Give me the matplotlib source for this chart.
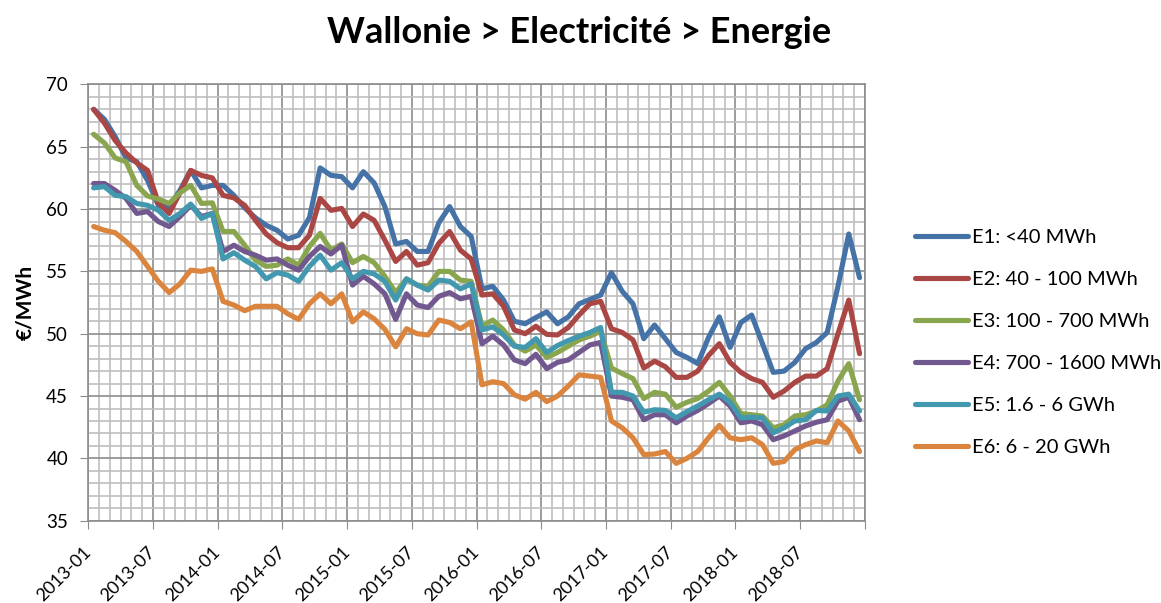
import numpy as np
import pandas as pd
import matplotlib
matplotlib.use("Agg")
import matplotlib.pyplot as plt
import matplotlib.transforms as mtransforms
from matplotlib.ticker import MultipleLocator

plt.rcParams["font.family"] = ["Lato", "DejaVu Sans"]

# monthly categories 2013-01 .. 2018-12
months = pd.date_range("2013-01-01", periods=72, freq="MS").strftime("%Y-%m").tolist()
tick_labels = months[::6]

labels = ["E1: <40 MWh", "E2: 40 - 100 MWh", "E3: 100 - 700 MWh",
          "E4: 700 - 1600 MWh", "E5: 1.6 - 6 GWh", "E6: 6 - 20 GWh"]
colors = ["#4572A7", "#AA4643", "#89A54E", "#71588F", "#4198AF", "#DB843D"]

e1 = [68.0, 67.2, 65.8, 64.1, 63.8, 62.3, 60.3, 60.2, 61.5, 63.1, 61.7, 61.9,
      61.9, 61.1, 60.1, 59.3, 58.7, 58.3, 57.6, 57.9, 59.3, 63.3, 62.7, 62.6,
      61.7, 63.0, 62.1, 60.2, 57.2, 57.4, 56.6, 56.6, 58.9, 60.2, 58.6, 57.8,
      53.6, 53.8, 52.7, 51.0, 50.8, 51.3, 51.75, 50.8, 51.35, 52.4, 52.75, 53.1,
      54.9, 53.4, 52.4, 49.6, 50.7, 49.6, 48.5, 48.1, 47.6, 49.7, 51.35, 48.9,
      50.9, 51.5, 49.2, 46.9, 47.0, 47.7, 48.8, 49.3, 50.1, 53.8, 58.0, 54.5]
e2 = [68.0, 66.9, 65.5, 64.5, 63.7, 63.1, 60.5, 59.65, 61.3, 63.1, 62.7, 62.5,
      61.1, 60.9, 60.3, 59.1, 58.0, 57.3, 56.9, 56.9, 57.9, 60.85, 59.9, 60.05,
      58.6, 59.6, 59.1, 57.5, 55.8, 56.6, 55.5, 55.7, 57.25, 58.2, 56.7, 56.0,
      53.1, 53.2, 52.2, 50.3, 50.0, 50.6, 49.95, 49.9, 50.5, 51.5, 52.4, 52.6,
      50.4, 50.1, 49.5, 47.25, 47.8, 47.35, 46.5, 46.5, 47.0, 48.25, 49.2, 47.7,
      46.9, 46.4, 46.1, 44.9, 45.4, 46.1, 46.6, 46.6, 47.2, 50.0, 52.7, 48.4]
e3 = [66.0, 65.3, 64.1, 63.8, 61.9, 61.05, 60.8, 60.45, 61.3, 61.9, 60.45, 60.5,
      58.2, 58.2, 57.1, 55.9, 55.4, 55.5, 56.0, 55.5, 57.0, 58.05, 56.7, 57.2,
      55.7, 56.2, 55.7, 54.6, 53.3, 54.4, 53.9, 53.8, 55.0, 55.0, 54.3, 54.2,
      50.6, 51.1, 50.3, 49.1, 48.6, 49.1, 48.1, 48.5, 49.0, 49.5, 49.8, 50.2,
      47.25, 46.8, 46.4, 44.8, 45.3, 45.15, 44.1, 44.5, 44.8, 45.4, 46.1, 45.0,
      43.6, 43.5, 43.4, 42.45, 42.7, 43.4, 43.5, 43.8, 44.3, 46.2, 47.6, 44.7]
e4 = [62.05, 62.05, 61.5, 60.85, 59.65, 59.8, 59.0, 58.6, 59.4, 60.3, 59.4, 59.65,
      56.6, 57.1, 56.6, 56.3, 55.9, 56.0, 55.5, 55.1, 56.2, 57.0, 56.4, 57.1,
      53.9, 54.6, 54.0, 53.2, 51.15, 53.2, 52.3, 52.1, 53.0, 53.3, 52.8, 53.0,
      49.2, 49.8, 49.1, 47.9, 47.6, 48.35, 47.2, 47.7, 47.9, 48.5, 49.1, 49.3,
      45.0, 44.9, 44.7, 43.1, 43.5, 43.5, 42.85, 43.4, 43.85, 44.4, 45.0, 44.2,
      42.85, 43.0, 42.7, 41.5, 41.8, 42.2, 42.6, 42.9, 43.1, 44.6, 44.9, 43.1]
e5 = [61.7, 61.8, 61.1, 61.0, 60.45, 60.3, 59.9, 59.1, 59.65, 60.4, 59.25, 59.65,
      56.0, 56.5, 55.9, 55.4, 54.4, 54.9, 54.7, 54.2, 55.4, 56.3, 55.1, 55.7,
      54.4, 55.0, 54.8, 54.2, 52.7, 54.4, 53.9, 53.5, 54.3, 54.2, 53.6, 54.0,
      50.3, 50.55, 49.9, 49.0, 48.9, 49.6, 48.5, 49.05, 49.45, 49.8, 50.1, 50.5,
      45.3, 45.3, 45.0, 43.7, 43.9, 43.85, 43.25, 43.75, 44.2, 44.7, 45.15, 44.5,
      43.25, 43.3, 43.25, 42.05, 42.45, 43.0, 43.1, 43.85, 43.8, 45.0, 45.15, 43.8]
e6 = [58.6, 58.3, 58.1, 57.4, 56.6, 55.4, 54.2, 53.3, 54.0, 55.1, 55.0, 55.2,
      52.6, 52.3, 51.85, 52.2, 52.2, 52.2, 51.6, 51.15, 52.4, 53.2, 52.4, 53.2,
      50.95, 51.75, 51.2, 50.35, 48.95, 50.4, 50.0, 49.9, 51.1, 50.9, 50.4, 50.95,
      45.9, 46.15, 46.0, 45.1, 44.75, 45.3, 44.55, 45.0, 45.8, 46.7, 46.6, 46.5,
      43.0, 42.45, 41.65, 40.3, 40.35, 40.55, 39.6, 40.0, 40.55, 41.65, 42.65, 41.65,
      41.5, 41.65, 41.1, 39.6, 39.75, 40.7, 41.1, 41.4, 41.25, 43.0, 42.2, 40.55]

series = [e1, e2, e3, e4, e5, e6]

fig = plt.figure(figsize=(11.61, 6.03), dpi=100)
ax = fig.add_axes([0.076, 0.1365, 0.669, 0.7235])

# categories sit between tick marks
x = np.arange(len(months)) + 0.5
for vals, lab, col in zip(series, labels, colors):
    ax.plot(x, vals, color=col, lw=3.7, label=lab,
            solid_joinstyle="round", solid_capstyle="round", zorder=3)

ax.set_xlim(0, 72)
ax.set_ylim(35, 70)
ax.xaxis.set_major_locator(MultipleLocator(6))
ax.xaxis.set_minor_locator(MultipleLocator(1))
ax.yaxis.set_major_locator(MultipleLocator(5))
ax.yaxis.set_minor_locator(MultipleLocator(1))
ax.grid(which="major", color="#8C8C8C", lw=1.2, zorder=1)
ax.grid(which="minor", color="#BFBFBF", lw=1.2, zorder=0)
ax.set_axisbelow(True)

ax.set_xticks(np.arange(0, 73, 6))
ax.set_xticklabels(tick_labels + [""], rotation=45, ha="right", va="center",
                   rotation_mode="anchor", fontsize=13)
shift = mtransforms.ScaledTranslation(8 / 100, 0, fig.dpi_scale_trans)
for t in ax.get_xticklabels():
    t.set_transform(t.get_transform() + shift)
ax.tick_params(axis="x", which="major", length=5.5, color="#8C8C8C", pad=15.5)
ax.tick_params(axis="y", which="major", length=5.5, color="#8C8C8C", labelsize=13.5, pad=9)
ax.tick_params(which="minor", length=0)
for s in ax.spines.values():
    s.set_color("#8C8C8C")
    s.set_linewidth(1.2)

ax.set_ylabel("€/MWh", fontsize=15, fontweight="bold", labelpad=8)
fig.text(0.499, 1 - 43 / 603, "Wallonie > Electricité > Energie", fontsize=26,
         fontweight="bold", ha="center", va="baseline")

ax.legend(loc="upper left", bbox_to_anchor=(0.781, 0.634), bbox_transform=fig.transFigure,
          frameon=False, fontsize=14.5, handlelength=2.64, labelspacing=1.24,
          handletextpad=0.2, borderaxespad=0)

fig.savefig("out.png", dpi=100)
